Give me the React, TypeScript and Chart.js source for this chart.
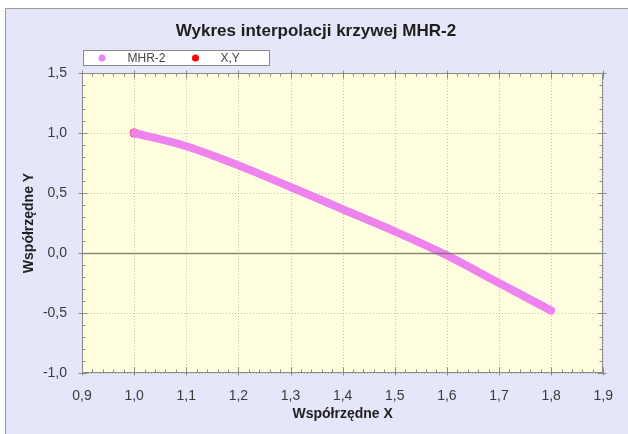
import React, { useEffect, useRef } from "react";
import { Chart, registerables } from "chart.js";

Chart.register(...registerables);

const chartTitle = "Wykres interpolacji krzywej MHR-2";
const xAxisTitle = "Współrzędne X";
const yAxisTitle = "Współrzędne Y";
const seriesNames = ["MHR-2", "X,Y"];
const seriesColors = ["#ee82ee", "#ff0000"];

const mhrX = [1.0, 1.1, 1.2, 1.3, 1.4, 1.5, 1.6, 1.7, 1.8];
const mhrY = [1.0, 0.89, 0.73, 0.55, 0.365, 0.18, -0.02, -0.25, -0.48];
const xyX = [1.0];
const xyY = [1.0];

const xTickValues = [0.9, 1.0, 1.1, 1.2, 1.3, 1.4, 1.5, 1.6, 1.7, 1.8, 1.9];
const yTickValues = [-1.0, -0.5, 0.0, 0.5, 1.0, 1.5];

const FONT = "'Liberation Sans', Arial, sans-serif";
const fmt = (v: number) => Number(v).toFixed(1).replace(".", ",");

const decor = {
  id: "decor",
  beforeDraw(chart: any) {
    const { ctx, chartArea: a } = chart;
    const W = chart.width;
    const H = chart.height;
    ctx.save();
    ctx.fillStyle = "#ffffff";
    ctx.fillRect(0, 0, W, H);
    ctx.fillStyle = "#e6e6fa";
    ctx.fillRect(5, 8, W - 5, H - 8);
    ctx.strokeStyle = "#9a9a9a";
    ctx.lineWidth = 1;
    ctx.beginPath();
    ctx.moveTo(5.5, H);
    ctx.lineTo(5.5, 8.5);
    ctx.lineTo(W, 8.5);
    ctx.stroke();

    // plot background
    ctx.fillStyle = "#ffffe0";
    ctx.fillRect(a.left, a.top, a.right - a.left, a.bottom - a.top);

    // dotted grid
    const xs = chart.scales.x;
    const ys = chart.scales.y;
    ctx.setLineDash([1, 2]);
    ctx.strokeStyle = "rgba(150,150,120,0.55)";
    ctx.lineWidth = 1;
    for (const v of xTickValues) {
      const px = Math.round(xs.getPixelForValue(v)) + 0.5;
      ctx.beginPath();
      ctx.moveTo(px, a.top);
      ctx.lineTo(px, a.bottom);
      ctx.stroke();
    }
    for (const v of yTickValues) {
      const py = Math.round(ys.getPixelForValue(v)) + 0.5;
      ctx.beginPath();
      ctx.moveTo(a.left, py);
      ctx.lineTo(a.right, py);
      ctx.stroke();
    }
    ctx.setLineDash([]);

    // title
    ctx.font = `bold 17px ${FONT}`;
    ctx.fillStyle = "#1e1e1e";
    ctx.textAlign = "center";
    ctx.textBaseline = "middle";
    ctx.fillText(chartTitle, 316, 31);

    // legend box
    const bx = a.left + 1.5;
    const by = a.top - 22.5;
    ctx.fillStyle = "#ffffff";
    ctx.fillRect(bx, by, 186, 15);
    ctx.strokeStyle = "#8a8a8a";
    ctx.strokeRect(bx, by, 186, 15);
    const cy = by + 7.5;
    const items = [
      { dot: bx + 18.5, text: bx + 44 },
      { dot: bx + 112, text: bx + 137 },
    ];
    ctx.font = `12px ${FONT}`;
    ctx.textAlign = "left";
    ctx.textBaseline = "middle";
    items.forEach((it, i) => {
      ctx.fillStyle = seriesColors[i];
      ctx.beginPath();
      ctx.arc(it.dot, cy, 3.5, 0, Math.PI * 2);
      ctx.fill();
      ctx.fillStyle = "#444444";
      ctx.fillText(seriesNames[i], it.text, cy + 0.5);
    });
    ctx.restore();
  },
  afterDatasetsDraw(chart: any) {
    const { ctx, chartArea: a } = chart;
    const xs = chart.scales.x;
    const ys = chart.scales.y;
    ctx.save();
    // zero line
    const zy = Math.round(ys.getPixelForValue(0)) + 0.5;
    ctx.strokeStyle = "rgba(110,110,95,0.8)";
    ctx.lineWidth = 1.5;
    ctx.beginPath();
    ctx.moveTo(a.left, zy);
    ctx.lineTo(a.right, zy);
    ctx.stroke();

    // border
    ctx.strokeStyle = "#8a8a8a";
    ctx.lineWidth = 1;
    const L = Math.round(a.left) + 0.5;
    const R = Math.round(a.right) - 0.5;
    const T = Math.round(a.top) + 0.5;
    const B = Math.round(a.bottom) - 0.5;
    ctx.strokeRect(L, T, R - L, B - T);

    // ticks
    ctx.strokeStyle = "#8a8a8a";
    ctx.beginPath();
    for (let i = 0; i < xTickValues.length; i++) {
      const v = xTickValues[i];
      const px = Math.round(xs.getPixelForValue(v)) + 0.5;
      ctx.moveTo(px, B + 3);
      ctx.lineTo(px, B - 5);
      ctx.moveTo(px, T - 3);
      ctx.lineTo(px, T + 5);
      if (i < xTickValues.length - 1) {
        const step = (xTickValues[i + 1] - v) / 5;
        for (let k = 1; k < 5; k++) {
          const mx = Math.round(xs.getPixelForValue(v + step * k)) + 0.5;
          ctx.moveTo(mx, B);
          ctx.lineTo(mx, B - 3);
          ctx.moveTo(mx, T);
          ctx.lineTo(mx, T + 3);
        }
      }
    }
    for (let i = 0; i < yTickValues.length; i++) {
      const v = yTickValues[i];
      const py = Math.round(ys.getPixelForValue(v)) + 0.5;
      ctx.moveTo(L - 4, py);
      ctx.lineTo(L + 5, py);
      ctx.moveTo(R + 4, py);
      ctx.lineTo(R - 5, py);
      if (i < yTickValues.length - 1) {
        const step = (yTickValues[i + 1] - v) / 5;
        for (let k = 1; k < 5; k++) {
          const my = Math.round(ys.getPixelForValue(v + step * k)) + 0.5;
          ctx.moveTo(L, my);
          ctx.lineTo(L + 3, my);
          ctx.moveTo(R, my);
          ctx.lineTo(R - 3, my);
        }
      }
    }
    ctx.stroke();
    ctx.restore();
  },
};

export default function App() {
  const ref = useRef<HTMLCanvasElement | null>(null);
  useEffect(() => {
    if (!ref.current) return;
    const tickFont = { family: FONT, size: 14 };
    const titleFont = { family: FONT, size: 14, weight: "bold" as const };
    const chart = new Chart(ref.current, {
      type: "scatter",
      data: {
        datasets: [
          {
            label: seriesNames[0],
            data: mhrX.map((x, i) => ({ x, y: mhrY[i] })),
            showLine: true,
            borderColor: seriesColors[0],
            backgroundColor: seriesColors[0],
            borderWidth: 8,
            borderCapStyle: "round",
            borderJoinStyle: "round",
            pointRadius: 0,
            cubicInterpolationMode: "monotone",
            order: 0,
          },
          {
            label: seriesNames[1],
            data: xyX.map((x, i) => ({ x, y: xyY[i] })),
            showLine: false,
            borderColor: seriesColors[1],
            backgroundColor: seriesColors[1],
            pointRadius: 4.5,
            pointBorderWidth: 0,
            order: 1,
          },
        ],
      },
      options: {
        animation: false,
        responsive: false,
        devicePixelRatio: 1,
        layout: { padding: { top: 73, right: 21, left: 0, bottom: 0 } },
        plugins: {
          legend: { display: false },
          title: { display: false },
          tooltip: { enabled: false },
        },
        scales: {
          x: {
            type: "linear",
            min: 0.9,
            max: 1.9,
            afterBuildTicks: (s: any) => {
              s.ticks = xTickValues.map((v) => ({ value: v }));
            },
            afterFit: (s: any) => {
              s.height = 61;
            },
            grid: { display: false, drawTicks: false },
            border: { display: false },
            ticks: {
              callback: (v: any) => fmt(v),
              font: tickFont,
              color: "#3a3a3a",
              padding: 15,
              maxRotation: 0,
              autoSkip: false,
            },
            title: {
              display: true,
              text: xAxisTitle,
              font: titleFont,
              color: "#1e1e1e",
              padding: { top: 0, bottom: 11 },
            },
          },
          y: {
            type: "linear",
            min: -1.0,
            max: 1.5,
            afterBuildTicks: (s: any) => {
              s.ticks = yTickValues.map((v) => ({ value: v }));
            },
            afterFit: (s: any) => {
              s.width = 82;
            },
            grid: { display: false, drawTicks: false },
            border: { display: false },
            ticks: {
              callback: (v: any) => fmt(v),
              font: tickFont,
              color: "#3a3a3a",
              padding: 15,
              autoSkip: false,
            },
            title: {
              display: true,
              text: yAxisTitle,
              font: titleFont,
              color: "#1e1e1e",
              padding: { top: 20.5, bottom: 0 },
            },
          },
        },
      },
      plugins: [decor],
    } as any);
    return () => chart.destroy();
  }, []);
  return (
    <div style={{ position: "fixed", left: 0, top: 0, width: 628, height: 434 }}>
      <canvas ref={ref} width={628} height={434} style={{ display: "block" }} />
    </div>
  );
}
